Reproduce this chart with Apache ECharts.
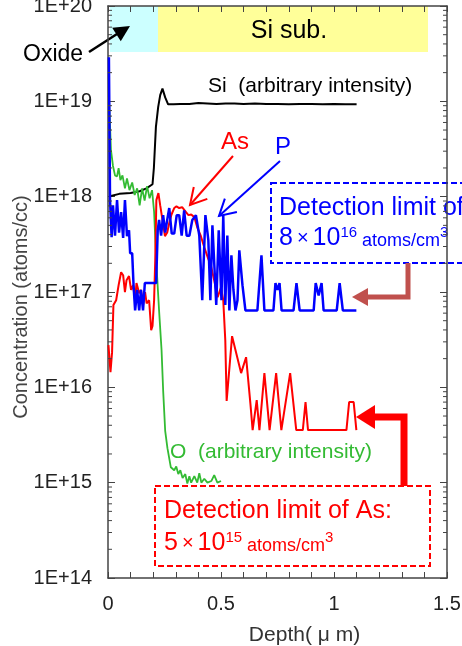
<!DOCTYPE html>
<html>
<head>
<meta charset="utf-8">
<script src="https://cdn.jsdelivr.net/npm/echarts@6/dist/echarts.min.js"></script>
<style>
  html, body { margin: 0; padding: 0; background: #fff; }
  #chart { width: 462px; height: 646px; }
</style>
</head>
<body>
<div id="chart"></div>
<script>
// SIMS depth profile, depth in um, concentration in atoms/cc
const siDepth = [0.008, 0.05, 0.10, 0.14, 0.17, 0.197, 0.203, 0.212, 0.222, 0.231, 0.241, 0.253, 0.266, 0.29, 0.32, 0.36,
  0.40, 0.44, 0.48, 0.52, 0.56, 0.60, 0.65, 0.70, 0.75, 0.80, 0.85, 0.90, 0.95, 1.00, 1.05, 1.10];
const siConc = [1.01e18, 1.07e18, 1.09e18, 1.14e18, 1.22e18, 1.35e18, 2.0e18, 5.4e18, 8.7e18, 1.16e19, 1.36e19, 1.1e19, 9.3e18, 9.3e18, 9.4e18, 9.4e18,
  9.6e18, 9.5e18, 9.4e18, 9.5e18, 9.5e18, 9.4e18, 9.5e18, 9.4e18, 9.4e18, 9.3e18, 9.4e18, 9.4e18, 9.3e18, 9.4e18, 9.3e18, 9.3e18];

const oDepth = [0.004, 0.009, 0.013, 0.022, 0.031, 0.040, 0.047, 0.055, 0.064, 0.075, 0.084, 0.095, 0.107, 0.118, 0.129, 0.140,
  0.151, 0.162, 0.173, 0.184, 0.195, 0.204, 0.214, 0.226, 0.237, 0.244, 0.253, 0.263, 0.278, 0.293, 0.302, 0.311,
  0.320, 0.330, 0.342, 0.351, 0.360, 0.368, 0.382, 0.395, 0.404, 0.413, 0.426, 0.440, 0.457, 0.470, 0.484, 0.500];
const oConc = [1.1e19, 5.6e18, 3.1e18, 2.1e18, 1.67e18, 1.63e18, 1.99e18, 1.49e18, 1.67e18, 1.22e18, 1.55e18, 1.17e18, 1.41e18, 1.04e18, 1.22e18, 8.1e17,
  1.22e18, 9.1e17, 1.29e18, 9.6e17, 1.17e18, 6.9e17, 2.0e17, 6.4e16, 2.45e16, 9.3e15, 3.5e15, 2.3e15, 1.45e15, 1.35e15, 1.48e15, 1.23e15,
  1.35e15, 1.12e15, 1.23e15, 9.8e14, 1.17e15, 1.0e15, 1.17e15, 1.0e15, 1.26e15, 1.0e15, 1.1e15, 1.0e15, 1.04e15, 1.2e15, 1.0e15, 1.04e15];

const pDepth = [0.004, 0.009, 0.016, 0.022, 0.031, 0.040, 0.049, 0.058, 0.067, 0.075, 0.084, 0.093, 0.098, 0.107, 0.113, 0.120,
  0.129, 0.138, 0.146, 0.155, 0.163, 0.213, 0.220, 0.226, 0.235, 0.244, 0.253, 0.262, 0.271, 0.282, 0.293, 0.304,
  0.315, 0.326, 0.337, 0.348, 0.360, 0.373, 0.389, 0.404, 0.417, 0.431, 0.444, 0.453, 0.462, 0.470, 0.479, 0.490,
  0.502, 0.510, 0.519, 0.528, 0.537, 0.546, 0.555, 0.564, 0.573, 0.581, 0.595, 0.608, 0.661, 0.679, 0.692, 0.732,
  0.741, 0.750, 0.759, 0.768, 0.821, 0.834, 0.848, 0.910, 0.919, 0.932, 0.945, 0.954, 1.012, 1.025, 1.039, 1.099];
const pConc = [2.9e19, 9.2e17, 3.75e17, 8.1e17, 3.9e17, 9.2e17, 4.2e17, 6.9e17, 3.7e17, 9.2e17, 3.85e17, 4.45e17, 2.55e17, 2.55e17, 1.18e17, 6.4e16,
  1.05e17, 6.4e16, 1.05e17, 6.4e16, 1.24e17, 1.24e17, 4.45e17, 5.7e17, 3.9e17, 6.4e17, 4.2e17, 5.7e17, 7.6e17, 4.1e17, 4.1e17, 6.4e17,
  6.4e17, 3.9e17, 7.2e17, 3.9e17, 3.9e17, 5.7e17, 6.4e17, 3.9e17, 8.2e16, 6.4e17, 3.5e17, 8.2e16, 5.0e17, 5.0e17, 7.3e16, 4.45e17,
  8.2e16, 6.4e17, 7.3e16, 3.9e17, 6.4e16, 2.43e17, 1.05e17, 6.4e16, 8.2e16, 2.74e17, 1.18e17, 6.4e16, 6.4e16, 2.43e17, 6.4e16, 6.4e16,
  1.24e17, 1.05e17, 1.24e17, 6.4e16, 6.4e16, 1.24e17, 6.4e16, 6.4e16, 1.24e17, 9.2e16, 1.24e17, 6.4e16, 6.4e16, 1.24e17, 6.4e16, 6.4e16];

const asDepth = [0.002, 0.011, 0.018, 0.024, 0.036, 0.047, 0.058, 0.067, 0.075, 0.082, 0.093, 0.102, 0.111, 0.120, 0.126, 0.138,
  0.146, 0.155, 0.164, 0.171, 0.182, 0.191, 0.197, 0.204, 0.209, 0.214, 0.223, 0.231, 0.241, 0.252, 0.262, 0.271,
  0.281, 0.293, 0.303, 0.315, 0.328, 0.345, 0.356, 0.368, 0.382, 0.396, 0.411, 0.426, 0.441, 0.456, 0.470, 0.485,
  0.500, 0.510, 0.519, 0.525, 0.549, 0.589, 0.611, 0.630, 0.640, 0.658, 0.670, 0.692, 0.715, 0.744, 0.767, 0.806,
  0.833, 0.862, 0.874, 0.885, 1.055, 1.067, 1.087, 1.099];
const asConc = [2.77e16, 1.44e16, 2.34e16, 7.3e16, 8.2e16, 1.18e17, 1.61e17, 1.5e17, 9.95e16, 1.33e17, 1.47e17, 1.05e17, 1.18e17, 8.2e16, 1.24e17, 9.7e16,
  1.05e17, 7.3e16, 9.95e16, 7.6e16, 8.2e16, 3.98e16, 4.4e16, 8.2e16, 2.15e17, 9.2e17, 1.09e18, 8.1e17, 5.7e17, 3.85e17, 4.2e17, 5.3e17,
  6.5e17, 7.6e17, 7.9e17, 7.6e17, 7.75e17, 6.9e17, 6.4e17, 6.5e17, 6.1e17, 4.7e17, 3.85e17, 2.95e17, 2.32e17, 1.86e17, 1.33e17, 8.8e16,
  1.12e17, 8.2e16, 3.1e16, 7.2e15, 3.44e16, 1.41e16, 2.07e16, 6.8e15, 3.56e15, 7.35e15, 3.56e15, 1.41e16, 3.56e15, 1.41e16, 3.56e15, 1.41e16,
  3.56e15, 3.56e15, 7.0e15, 3.56e15, 3.56e15, 7.0e15, 7.0e15, 3.56e15];

const yTickLabels = ['1E+14', '1E+15', '1E+16', '1E+17', '1E+18', '1E+19', '1E+20'];
const xTickLabels = ['0', '0.5', '1', '1.5'];
const decades = [14, 15, 16, 17, 18, 19];
const minorMantissas = [2, 3, 4, 5, 6, 7, 8, 9];

const font = "'Liberation Sans', Arial, sans-serif";
const axisColor = '#444';

const zip = (xs, ys) => xs.map((x, i) => [x, ys[i]]);
const minorTicks = [];
decades.forEach(e => minorMantissas.forEach(m => minorTicks.push([0, m * Math.pow(10, e)])));

function arrowHead(tx, ty, fx, fy, len, half) {
    const a = Math.atan2(ty - fy, tx - fx);
    const bx = tx - len * Math.cos(a), by = ty - len * Math.sin(a);
    const px = -Math.sin(a) * half, py = Math.cos(a) * half;
    return [[bx + px, by + py], [tx, ty], [bx - px, by - py]];
}

function openArrow(fx, fy, tx, ty, color) {
    return [
        { type: 'line', shape: { x1: fx, y1: fy, x2: tx, y2: ty }, style: { stroke: color, lineWidth: 2 } },
        { type: 'polyline', shape: { points: arrowHead(tx, ty, fx, fy, 16, 9) }, style: { stroke: color, lineWidth: 2, fill: null } }
    ];
}

const chart = echarts.init(document.getElementById('chart'));

const baseX = {
    type: 'value', min: 0, max: 1.5, interval: 0.1,
    axisLine: { show: true, onZero: false, lineStyle: { color: axisColor, width: 1.5 } },
    axisTick: { show: true, inside: true, length: 6, lineStyle: { color: axisColor } },
    splitLine: { show: false }
};
const baseY = {
    type: 'log', logBase: 10, min: 1e14, max: 1e20, splitNumber: 6,
    axisLine: { show: true, onZero: false, lineStyle: { color: axisColor, width: 1.5 } },
    axisTick: { show: true, inside: true, length: 7, lineStyle: { color: axisColor } },
    splitLine: { show: false }
};

chart.setOption({
    animation: false,
    backgroundColor: '#fff',
    grid: { left: 108, right: 15, top: 6, bottom: 68, outerBoundsMode: 'none', containLabel: false },
    xAxis: [
        Object.assign({}, baseX, {
            position: 'bottom',
            axisLabel: {
                fontFamily: font, fontSize: 20, color: '#222', margin: 16,
                formatter: v => {
                    const k = Math.round(v * 2);
                    return Math.abs(v * 2 - k) < 1e-6 ? xTickLabels[k] : '';
                }
            },
            name: 'Depth( μ m)', nameLocation: 'middle', nameGap: 47,
            nameTextStyle: { fontFamily: font, fontSize: 21, color: '#333', padding: [0, 0, 0, 54] }
        }),
        Object.assign({}, baseX, { position: 'top', axisLabel: { show: false } })
    ],
    yAxis: [
        Object.assign({}, baseY, {
            position: 'left',
            axisLabel: {
                fontFamily: font, fontSize: 20, color: '#222', margin: 16,
                formatter: v => yTickLabels[Math.round(Math.log10(v)) - 14]
            }
        }),
        Object.assign({}, baseY, { position: 'right', axisLabel: { show: false } })
    ],
    series: [
        {
            name: 'minor ticks', type: 'custom', silent: true, clip: false, data: minorTicks, z: 5,
            renderItem: (params, api) => {
                const v = api.value(1);
                const l = api.coord([0, v]);
                const r = api.coord([1.5, v]);
                const st = { stroke: axisColor, lineWidth: 1 };
                return {
                    type: 'group', children: [
                        { type: 'line', shape: { x1: l[0], y1: l[1], x2: l[0] + 4, y2: l[1] }, style: st },
                        { type: 'line', shape: { x1: r[0], y1: r[1], x2: r[0] - 4, y2: r[1] }, style: st }
                    ]
                };
            }
        },
        { name: 'Si', type: 'line', data: zip(siDepth, siConc), showSymbol: false, lineStyle: { color: '#000', width: 2 } },
        { name: 'O', type: 'line', data: zip(oDepth, oConc), showSymbol: false, lineStyle: { color: '#33bb33', width: 1.8 } },
        { name: 'As', type: 'line', data: zip(asDepth, asConc), showSymbol: false, lineStyle: { color: '#ff0000', width: 2 } },
        { name: 'P', type: 'line', data: zip(pDepth, pConc), showSymbol: false, lineStyle: { color: '#0000ff', width: 2.5 } }
    ],
    graphic: [
        // y axis title
        { type: 'text', x: 21, y: 307, rotation: Math.PI / 2, style: { text: 'Concentration (atoms/cc)', font: '20px ' + font, fill: '#444', align: 'center', verticalAlign: 'middle' } },

        // layer bands at the top
        { type: 'rect', shape: { x: 110, y: 6, width: 48, height: 46 }, style: { fill: '#ccffff' } },
        { type: 'rect', shape: { x: 158, y: 6, width: 270, height: 46 }, style: { fill: '#ffff99' } },
        { type: 'text', x: 289, y: 31, style: { text: 'Si sub.', font: '25px ' + font, fill: '#000', align: 'center', verticalAlign: 'middle' } },
        { type: 'text', x: 23, y: 55, style: { text: 'Oxide', font: '23px ' + font, fill: '#000', align: 'left', verticalAlign: 'middle' } },
        { type: 'line', shape: { x1: 89, y1: 52, x2: 117, y2: 34 }, style: { stroke: '#000', lineWidth: 2.5 } },
        { type: 'polygon', shape: { points: arrowHead(130, 26, 89, 52, 16, 8) }, style: { fill: '#000' } },

        { type: 'text', x: 208, y: 86, style: { text: 'Si  (arbitrary intensity)', font: '21px ' + font, fill: '#000', align: 'left', verticalAlign: 'middle' } },
        { type: 'text', x: 170, y: 452, style: { text: 'O  (arbitrary intensity)', font: '21px ' + font, fill: '#33bb33', align: 'left', verticalAlign: 'middle' } },

        { type: 'text', x: 221, y: 142, style: { text: 'As', font: '24px ' + font, fill: '#ff0000', align: 'left', verticalAlign: 'middle' } },
        { type: 'text', x: 275, y: 147, style: { text: 'P', font: '24px ' + font, fill: '#0000ff', align: 'left', verticalAlign: 'middle' } },
        ...openArrow(233, 156, 190, 205, '#ff0000'),
        ...openArrow(280, 161, 219, 216, '#0000ff'),

        // detection limit of P
        { type: 'rect', shape: { x: 271, y: 183, width: 200, height: 80 }, style: { fill: '#fff', stroke: '#0000ff', lineWidth: 2, lineDash: [6, 3] } },
        { type: 'text', x: 279, y: 208, style: { text: 'Detection limit of P:', font: '25px ' + font, fill: '#0000ff', align: 'left', verticalAlign: 'middle' } },
        {
            type: 'text', x: 279, y: 238, style: {
                text: '{n|8}{x|×}{n|10}{s|16}{u| atoms/cm}{s|3}', fill: '#0000ff', align: 'left', verticalAlign: 'middle',
                rich: {
                    n: { fontSize: 25, fontFamily: font, fill: '#0000ff' },
                    x: { fontSize: 20, fontFamily: font, fill: '#0000ff', padding: [0, 4] },
                    s: { fontSize: 15, fontFamily: font, fill: '#0000ff', verticalAlign: 'top' },
                    u: { fontSize: 18, fontFamily: font, fill: '#0000ff', verticalAlign: 'bottom' }
                }
            }
        },
        { type: 'polyline', shape: { points: [[408, 263], [408, 297], [368, 297]] }, style: { stroke: '#c0504d', lineWidth: 5, fill: null } },
        { type: 'polygon', shape: { points: [[352, 297], [368, 288], [368, 306]] }, style: { fill: '#c0504d' } },

        // detection limit of As
        { type: 'rect', shape: { x: 155, y: 486, width: 275, height: 80 }, style: { fill: '#fff', stroke: '#ff0000', lineWidth: 2, lineDash: [6, 3] } },
        { type: 'text', x: 164, y: 511, style: { text: 'Detection limit of As:', font: '25px ' + font, fill: '#ff0000', align: 'left', verticalAlign: 'middle' } },
        {
            type: 'text', x: 164, y: 543, style: {
                text: '{n|5}{x|×}{n|10}{s|15}{u| atoms/cm}{s|3}', fill: '#ff0000', align: 'left', verticalAlign: 'middle',
                rich: {
                    n: { fontSize: 25, fontFamily: font, fill: '#ff0000' },
                    x: { fontSize: 20, fontFamily: font, fill: '#ff0000', padding: [0, 4] },
                    s: { fontSize: 15, fontFamily: font, fill: '#ff0000', verticalAlign: 'top' },
                    u: { fontSize: 18, fontFamily: font, fill: '#ff0000', verticalAlign: 'bottom' }
                }
            }
        },
        { type: 'polyline', shape: { points: [[404, 486], [404, 417], [374, 417]] }, style: { stroke: '#ff0000', lineWidth: 7, fill: null } },
        { type: 'polygon', shape: { points: [[356, 417], [375, 405], [375, 429]] }, style: { fill: '#ff0000' } }
    ]
});
</script>
</body>
</html>
